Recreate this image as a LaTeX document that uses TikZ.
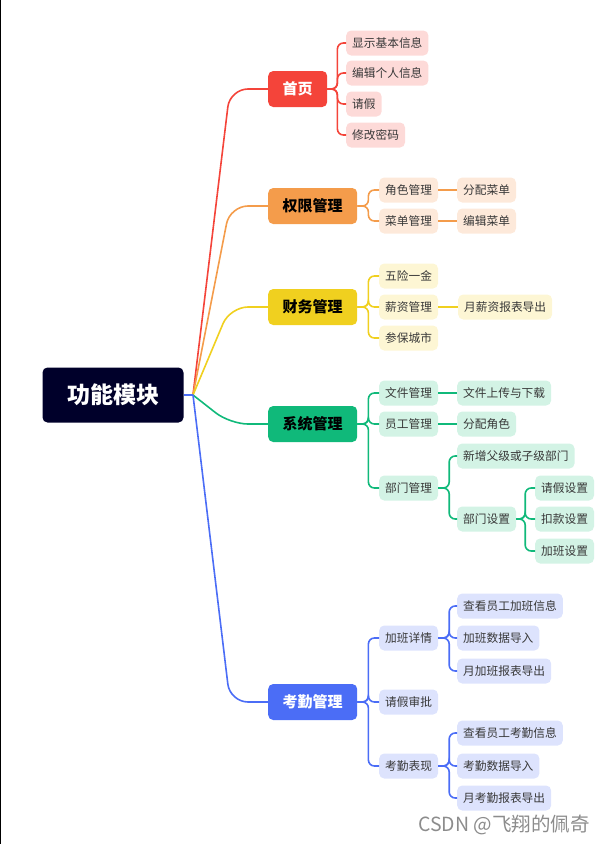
\documentclass[tikz,border=0pt]{standalone}
\usepackage{fontspec}
\setmainfont{Noto Sans CJK SC}
\usepackage{tikz}

\definecolor{rootc}{HTML}{00002A}
\definecolor{redM}{HTML}{F4443A}
\definecolor{redS}{HTML}{FDDAD8}
\definecolor{orgM}{HTML}{F49C4B}
\definecolor{orgS}{HTML}{FDE9DA}
\definecolor{yelM}{HTML}{F0D01F}
\definecolor{yelS}{HTML}{FDF6D4}
\definecolor{grnM}{HTML}{10B97A}
\definecolor{grnS}{HTML}{D3F3E5}
\definecolor{bluM}{HTML}{4B6DF6}
\definecolor{bluS}{HTML}{DDE3FD}

\begin{document}
\begin{tikzpicture}[x=1pt, y=-1pt,
  root/.style={fill=rootc, text=white, rounded corners=5pt, minimum width=141pt, minimum height=55pt, font=\fontsize{23}{23}\selectfont\bfseries},
  topic/.style={anchor=west, rounded corners=5pt, minimum height=36pt, inner xsep=14.5pt, font=\fontsize{15}{15}\selectfont\bfseries},
  sub/.style={anchor=west, rounded corners=5pt, minimum height=25pt, inner xsep=6pt, text=black!78, font=\fontsize{11.7}{11.7}\selectfont},
  link/.style={line width=1.6pt, rounded corners=6pt},
  branch/.style={line width=1.6pt, rounded corners=18pt}]
\useasboundingbox (0,0) rectangle (604,844);
\draw[line width=1.3pt] (0.65,0) -- (0.65,844);

\node[root] (gn) at (113,395) {功能模块};
\coordinate (hub) at (193,395);

% main topics
\node[topic, fill=redM, text=white] (sy) at (268,89) {首页};
\node[topic, fill=orgM] (qx) at (268,206) {权限管理};
\node[topic, fill=yelM] (cw) at (268,307) {财务管理};
\node[topic, fill=grnM] (xt) at (268,424) {系统管理};
\node[topic, fill=bluM, text=white] (kq) at (268,702) {考勤管理};

\draw[branch, redM] (hub) -- (230,89) -- (sy.west);
\draw[branch, orgM] (hub) -- (230,206) -- (qx.west);
\draw[branch, yelM] (hub) -- (230,307) -- (cw.west);
\draw[branch, grnM] (hub) -- (230,424) -- (xt.west);
\draw[branch, bluM] (hub) -- (230,702) -- (kq.west);
\draw[line width=1.6pt, bluM] (gn.east) -- (hub);

% 首页
\node[sub, fill=redS] (sy1) at (346,43) {显示基本信息};
\node[sub, fill=redS] (sy2) at (346,73) {编辑个人信息};
\node[sub, fill=redS] (sy3) at (346,104) {请假};
\node[sub, fill=redS] (sy4) at (346,135) {修改密码};
\foreach \c in {sy1,sy2,sy3,sy4}
  \draw[link, redM] (sy.east) -- ++(10,0) |- (\c.west);

% 权限管理
\node[sub, fill=orgS] (qx1) at (379,190) {角色管理};
\node[sub, fill=orgS] (qx2) at (379,221) {菜单管理};
\node[sub, fill=orgS] (qx11) at (457,190) {分配菜单};
\node[sub, fill=orgS] (qx21) at (457,221) {编辑菜单};
\foreach \c in {qx1,qx2}
  \draw[link, orgM] (qx.east) -- ++(11,0) |- (\c.west);
\draw[link, orgM] (qx1.east) -- (qx11.west);
\draw[link, orgM] (qx2.east) -- (qx21.west);

% 财务管理
\node[sub, fill=yelS] (cw1) at (379,276) {五险一金};
\node[sub, fill=yelS] (cw2) at (379,307) {薪资管理};
\node[sub, fill=yelS] (cw3) at (379,338) {参保城市};
\node[sub, fill=yelS] (cw21) at (458,307) {月薪资报表导出};
\foreach \c in {cw1,cw2,cw3}
  \draw[link, yelM] (cw.east) -- ++(11,0) |- (\c.west);
\draw[link, yelM] (cw2.east) -- (cw21.west);

% 系统管理
\node[sub, fill=grnS] (xt1) at (379,393) {文件管理};
\node[sub, fill=grnS] (xt2) at (379,424) {员工管理};
\node[sub, fill=grnS] (xt3) at (379,488) {部门管理};
\node[sub, fill=grnS] (xt11) at (457,393) {文件上传与下载};
\node[sub, fill=grnS] (xt21) at (457,424) {分配角色};
\node[sub, fill=grnS] (xt31) at (457,456) {新增父级或子级部门};
\node[sub, fill=grnS] (xt32) at (457,519) {部门设置};
\node[sub, fill=grnS] (xt321) at (535,488) {请假设置};
\node[sub, fill=grnS] (xt322) at (535,519) {扣款设置};
\node[sub, fill=grnS] (xt323) at (535,551) {加班设置};
\foreach \c in {xt1,xt2,xt3}
  \draw[link, grnM] (xt.east) -- ++(11,0) |- (\c.west);
\draw[link, grnM] (xt1.east) -- (xt11.west);
\draw[link, grnM] (xt2.east) -- (xt21.west);
\foreach \c in {xt31,xt32}
  \draw[link, grnM] (xt3.east) -- ++(11,0) |- (\c.west);
\foreach \c in {xt321,xt322,xt323}
  \draw[link, grnM] (xt32.east) -- ++(9,0) |- (\c.west);

% 考勤管理
\node[sub, fill=bluS] (kq1) at (379,638) {加班详情};
\node[sub, fill=bluS] (kq2) at (379,702) {请假审批};
\node[sub, fill=bluS] (kq3) at (379,766) {考勤表现};
\node[sub, fill=bluS] (kq11) at (457,606) {查看员工加班信息};
\node[sub, fill=bluS] (kq12) at (457,638) {加班数据导入};
\node[sub, fill=bluS] (kq13) at (457,671) {月加班报表导出};
\node[sub, fill=bluS] (kq31) at (457,733) {查看员工考勤信息};
\node[sub, fill=bluS] (kq32) at (457,766) {考勤数据导入};
\node[sub, fill=bluS] (kq33) at (457,798) {月考勤报表导出};
\foreach \c in {kq1,kq2,kq3}
  \draw[link, bluM] (kq.east) -- ++(11,0) |- (\c.west);
\foreach \c in {kq11,kq12,kq13}
  \draw[link, bluM] (kq1.east) -- ++(11,0) |- (\c.west);
\foreach \c in {kq31,kq32,kq33}
  \draw[link, bluM] (kq3.east) -- ++(11,0) |- (\c.west);

\node[anchor=west, text=black!45, font=\fontsize{19.5}{19.5}\selectfont, inner sep=0pt] (wm) at (418,825) {CSDN @飞翔的佩奇};
\end{tikzpicture}
\end{document}
